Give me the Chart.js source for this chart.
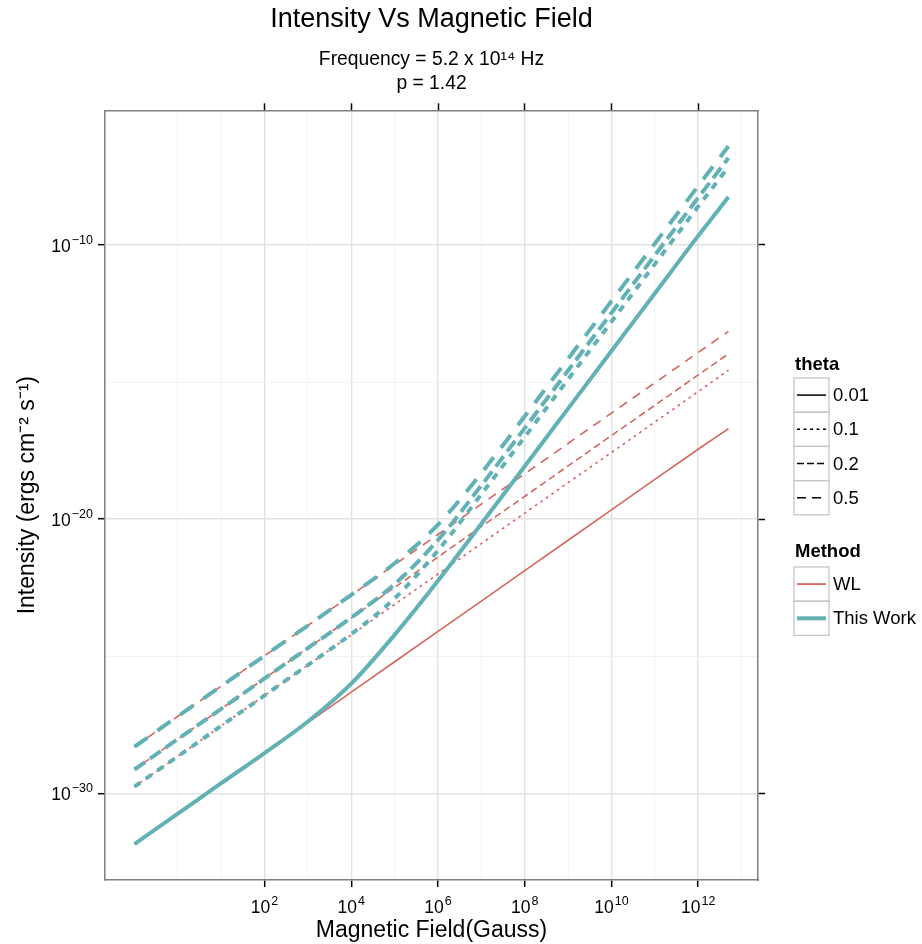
<!DOCTYPE html>
<html>
<head>
<meta charset="utf-8">
<title>Intensity Vs Magnetic Field</title>
<script src="https://cdn.jsdelivr.net/npm/chart.js@4.4.1/dist/chart.umd.min.js"></script>
<style>
  html, body { margin: 0; padding: 0; background: #fff; }
</style>
</head>
<body>
<canvas id="myChart" width="922" height="944"></canvas>
<script>
const FONT = '"Liberation Sans", Arial, Helvetica, sans-serif';
const WL_COLOR = '#d4675f';
const TW_COLOR = '#62b1b5';

// magnetic field (Gauss), shared by every curve
const bField = [1e-1, 1e0, 1e1, 1e2, 1e3, 1e4, 1e5, 1e6, 1e7, 1e8, 1e9, 1e10, 1e11, 1e12, 5e12];

// intensity (ergs cm^-2 s^-1), WL method
const wl001 = [1.41e-32, 1.82e-31, 2.34e-30, 2.95e-29, 3.80e-28, 4.90e-27, 6.31e-26, 8.13e-25, 1.02e-23, 1.32e-22, 1.70e-21, 2.19e-20, 2.82e-19, 3.55e-18, 2.0e-17];
const wl01  = [1.74e-30, 2.24e-29, 2.88e-28, 3.72e-27, 4.79e-26, 6.03e-25, 7.76e-24, 1.00e-22, 1.29e-21, 1.66e-20, 2.14e-19, 2.69e-18, 3.47e-17, 4.47e-16, 2.69e-15];
const wl02  = [7.41e-30, 9.55e-29, 1.20e-27, 1.55e-26, 2.00e-25, 2.51e-24, 3.24e-23, 4.17e-22, 5.37e-21, 6.76e-20, 8.71e-19, 1.12e-17, 1.41e-16, 1.82e-15, 1.07e-14];
const wl05  = [5.01e-29, 6.46e-28, 8.13e-27, 1.05e-25, 1.32e-24, 1.70e-23, 2.19e-22, 2.75e-21, 3.55e-20, 4.47e-19, 5.75e-18, 7.41e-17, 9.33e-16, 1.20e-14, 7.08e-14];

// intensity, This Work
const tw001 = [1.41e-32, 1.82e-31, 2.34e-30, 2.95e-29, 4.17e-28, 1.00e-26, 6.03e-25, 5.62e-23, 6.76e-21, 8.51e-19, 1.07e-16, 1.35e-14, 1.70e-12, 2.14e-10, 5.6e-9];
const tw01  = [1.74e-30, 2.24e-29, 2.88e-28, 3.72e-27, 4.79e-26, 6.46e-25, 1.29e-23, 7.24e-22, 8.13e-20, 1.00e-17, 1.26e-15, 1.58e-13, 2.00e-11, 2.51e-9, 7.08e-8];
const tw02  = [7.41e-30, 9.55e-29, 1.20e-27, 1.55e-26, 2.00e-25, 2.57e-24, 4.27e-23, 1.74e-21, 1.70e-19, 2.09e-17, 2.63e-15, 3.31e-13, 4.17e-11, 5.25e-9, 1.48e-7];
const tw05  = [5.01e-29, 6.46e-28, 8.13e-27, 1.05e-25, 1.32e-24, 1.74e-23, 2.45e-22, 6.31e-21, 4.79e-19, 5.62e-17, 7.08e-15, 8.91e-13, 1.12e-10, 1.41e-8, 3.98e-7];

const thetaLevels = ['0.01', '0.1', '0.2', '0.5'];
const methods = ['WL', 'This Work'];

// ticks / grid
const xGridValues = [1e0, 1e1, 1e2, 1e3, 1e4, 1e5, 1e6, 1e7, 1e8, 1e9, 1e10, 1e11, 1e12, 1e13];
const xMajor = [1e2, 1e4, 1e6, 1e8, 1e10, 1e12];
const xTickExp = ['2', '4', '6', '8', '10', '12'];
const yGridValues = [1e-30, 1e-25, 1e-20, 1e-15, 1e-10];
const yMajor = [1e-30, 1e-20, 1e-10];
const yTickExp = ['\u221230', '\u221220', '\u221210'];

// line styles per theta
const dashWL  = { '0.01': [], '0.1': [2.7, 4], '0.2': [7, 4], '0.5': [9, 7] };
const dashTW  = { '0.01': [], '0.1': [7, 7], '0.2': [13, 6], '0.5': [16, 12] };
const dashKey = { '0.01': [], '0.1': [3, 3.5], '0.2': [7, 3], '0.5': [9, 6] };

function pts(ys) {
    return bField.map((b, i) => ({ x: b, y: ys[i] }));
}

const wlSeries = [wl001, wl01, wl02, wl05];
const twSeries = [tw001, tw01, tw02, tw05];
const datasets = [];
thetaLevels.forEach((th, i) => {
    datasets.push({
        label: 'This Work ' + th, data: pts(twSeries[i]), borderColor: TW_COLOR,
        borderWidth: 4, borderDash: dashTW[th], cubicInterpolationMode: 'monotone', order: 1
    });
    datasets.push({
        label: 'WL ' + th, data: pts(wlSeries[i]), borderColor: WL_COLOR,
        borderWidth: 1.6, borderDash: dashWL[th], order: 2
    });
});

const X_MIN = Math.pow(10, -1.68), X_MAX = Math.pow(10, 13.38);
const Y_MIN = Math.pow(10, -33.16), Y_MAX = Math.pow(10, -5.09);

function isMajor(ctx, major) {
    return ctx.tick && major.includes(ctx.tick.value);
}
const border = { color: '#7f7f7f', width: 1.5 };

// "10" with a raised exponent, like the plotmath labels of the original
function drawPow(ctx, x, baseY, exp, align) {
    ctx.font = '17.5px ' + FONT;
    const wb = ctx.measureText('10').width;
    ctx.font = '12.5px ' + FONT;
    const we = ctx.measureText(exp).width;
    const total = wb + 1 + we;
    const left = align === 'center' ? x - total / 2 : x - total;
    ctx.textAlign = 'left';
    ctx.textBaseline = 'alphabetic';
    ctx.font = '17.5px ' + FONT;
    ctx.fillText('10', left, baseY);
    ctx.font = '12.5px ' + FONT;
    ctx.fillText(exp, left + wb + 1, baseY - 8);
}

const powTicks = {
    id: 'powTicks',
    afterDraw(chart) {
        const { ctx, scales } = chart;
        ctx.save();
        ctx.fillStyle = '#000';
        xMajor.forEach((v, i) => {
            drawPow(ctx, scales.x.getPixelForValue(v), 913, xTickExp[i], 'center');
        });
        yMajor.forEach((v, i) => {
            drawPow(ctx, 93, scales.y.getPixelForValue(v) + 7, yTickExp[i], 'right');
        });
        ctx.restore();
    }
};

// two grouped legends (theta / Method) in the right margin
const groupLegend = {
    id: 'groupLegend',
    afterDraw(chart) {
        const ctx = chart.ctx;
        const bx = 794, bw = 35, rh = 34.2;
        ctx.save();
        ctx.textBaseline = 'middle';
        ctx.fillStyle = '#000';
        ctx.font = 'bold 18.5px ' + FONT;
        ctx.fillText('theta', 795, 365);
        thetaLevels.forEach((th, i) => {
            const top = 378 + i * rh;
            ctx.setLineDash([]);
            ctx.strokeStyle = '#c6c6c6';
            ctx.lineWidth = 1.3;
            ctx.strokeRect(bx, top, bw, rh);
            ctx.strokeStyle = '#000';
            ctx.lineWidth = 1.5;
            ctx.setLineDash(dashKey[th]);
            ctx.beginPath();
            ctx.moveTo(bx + 3, top + rh / 2);
            ctx.lineTo(bx + 32, top + rh / 2);
            ctx.stroke();
            ctx.font = '18.5px ' + FONT;
            ctx.fillText(th, 833, top + rh / 2 + 1);
        });
        ctx.setLineDash([]);
        ctx.font = 'bold 18.5px ' + FONT;
        ctx.fillText('Method', 795, 552);
        methods.forEach((m, i) => {
            const top = 567 + i * rh;
            ctx.strokeStyle = '#c6c6c6';
            ctx.lineWidth = 1.3;
            ctx.strokeRect(bx, top, bw, rh);
            ctx.strokeStyle = i === 0 ? WL_COLOR : TW_COLOR;
            ctx.lineWidth = i === 0 ? 1.8 : 4;
            ctx.beginPath();
            ctx.moveTo(bx + 3, top + rh / 2);
            ctx.lineTo(bx + 32, top + rh / 2);
            ctx.stroke();
            ctx.font = '18.5px ' + FONT;
            ctx.fillText(m, 833, top + rh / 2 + 1);
        });
        ctx.restore();
    }
};

const config = {
    type: 'line',
    data: { datasets: datasets },
    options: {
        responsive: false,
        animation: false,
        layout: { padding: 0 },
        elements: {
            point: { radius: 0, hoverRadius: 0 },
            line: { tension: 0, borderCapStyle: 'butt', borderJoinStyle: 'round' }
        },
        plugins: {
            legend: { display: false },
            tooltip: { enabled: false },
            title: {
                display: true, fullSize: false, text: 'Intensity Vs Magnetic Field', color: '#000',
                font: { family: FONT, size: 27, weight: 'normal' }, padding: { top: 3, bottom: 4 }
            },
            subtitle: {
                display: true, fullSize: false, text: ['Frequency = 5.2 x 10¹⁴ Hz', 'p = 1.42'], color: '#000',
                font: { family: FONT, size: 19.3, lineHeight: 1.28 }, padding: { top: 7.5, bottom: 4 }
            }
        },
        scales: {
            x: {
                type: 'logarithmic', position: 'bottom', min: X_MIN, max: X_MAX,
                afterBuildTicks: s => { s.ticks = xGridValues.map(v => ({ value: v })); },
                afterFit: s => { s.height = 64; },
                ticks: { display: false },
                grid: {
                    color: ctx => isMajor(ctx, xMajor) ? '#e2e2e2' : '#f3f3f3',
                    lineWidth: ctx => isMajor(ctx, xMajor) ? 1.4 : 1,
                    tickColor: ctx => isMajor(ctx, xMajor) ? '#000' : 'rgba(0,0,0,0)',
                    tickLength: 7, tickWidth: 1.5
                },
                border: border,
                title: {
                    display: true, text: 'Magnetic Field(Gauss)', color: '#000',
                    font: { family: FONT, size: 23 }, padding: { top: 0, bottom: 0 }
                }
            },
            x2: {
                type: 'logarithmic', position: 'top', min: X_MIN, max: X_MAX,
                afterBuildTicks: s => { s.ticks = xGridValues.map(v => ({ value: v })); },
                afterFit: s => { s.height = 10; },
                ticks: { display: false },
                grid: {
                    drawOnChartArea: false,
                    tickColor: ctx => isMajor(ctx, xMajor) ? '#000' : 'rgba(0,0,0,0)',
                    tickLength: 7, tickWidth: 1.5
                },
                border: border
            },
            y: {
                type: 'logarithmic', position: 'left', min: Y_MIN, max: Y_MAX,
                afterBuildTicks: s => { s.ticks = yGridValues.map(v => ({ value: v })); },
                afterFit: s => { s.width = 105; },
                ticks: { display: false },
                grid: {
                    color: ctx => isMajor(ctx, yMajor) ? '#e2e2e2' : '#f3f3f3',
                    lineWidth: ctx => isMajor(ctx, yMajor) ? 1.4 : 1,
                    tickColor: ctx => isMajor(ctx, yMajor) ? '#000' : 'rgba(0,0,0,0)',
                    tickLength: 7, tickWidth: 1.5
                },
                border: border,
                title: {
                    display: true, text: 'Intensity (ergs cm⁻² s⁻¹)', color: '#000',
                    font: { family: FONT, size: 23 }, padding: { top: 14, bottom: 0 }
                }
            },
            y2: {
                type: 'logarithmic', position: 'right', min: Y_MIN, max: Y_MAX,
                afterBuildTicks: s => { s.ticks = yGridValues.map(v => ({ value: v })); },
                afterFit: s => { s.width = 164; },
                ticks: { display: false },
                grid: {
                    drawOnChartArea: false,
                    tickColor: ctx => isMajor(ctx, yMajor) ? '#000' : 'rgba(0,0,0,0)',
                    tickLength: 7, tickWidth: 1.5
                },
                border: border
            }
        }
    },
    plugins: [powTicks, groupLegend]
};

const myChart = new Chart(document.getElementById('myChart'), config);
</script>
</body>
</html>
